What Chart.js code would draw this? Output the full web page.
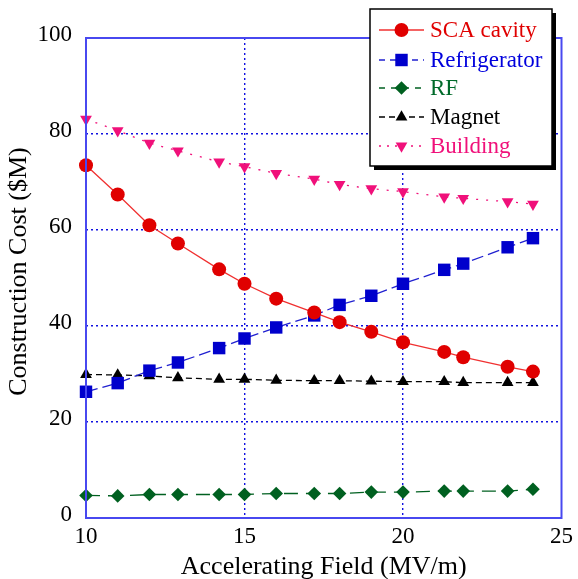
<!DOCTYPE html>
<html><head><meta charset="utf-8">
<script src="https://cdn.jsdelivr.net/npm/chart.js@4.4.1/dist/chart.umd.min.js"></script>
<style>html,body{margin:0;padding:0;background:#fff}#wrap{width:578px;height:579px}</style>
</head><body><div id="wrap"><canvas id="c" width="578" height="579"></canvas></div>
<script>
const fields = [10, 11, 12, 12.9, 14.2, 15, 16, 17.2, 18, 19, 20, 21.3, 21.9, 23.3, 24.1];
const scaCavity = [73.5, 67.4, 61.0, 57.2, 51.8, 48.8, 45.7, 42.8, 40.8, 38.8, 36.6, 34.6, 33.5, 31.5, 30.5];
const refrigerator = [26.3, 28.1, 30.7, 32.4, 35.4, 37.4, 39.7, 42.2, 44.4, 46.3, 48.8, 51.7, 53.0, 56.4, 58.3];
const rf = [4.7, 4.6, 4.9, 4.9, 4.9, 4.9, 5.1, 5.1, 5.1, 5.4, 5.4, 5.6, 5.6, 5.6, 6.0];
const magnet = [29.9, 29.8, 29.6, 29.2, 28.9, 28.9, 28.7, 28.6, 28.6, 28.5, 28.4, 28.4, 28.2, 28.2, 28.2];
const building = [83.1, 80.7, 78.1, 76.5, 74.2, 73.2, 71.8, 70.6, 69.5, 68.6, 68.0, 66.9, 66.6, 65.9, 65.4];
const seriesNames = ['SCA cavity', 'Refrigerator', 'RF', 'Magnet', 'Building'];
const xTicks = [10, 15, 20, 25];
const yTicks = [0, 20, 40, 60, 80, 100];

const FONT = '"Liberation Serif", "Times New Roman", serif';
const pts = arr => arr.map((v, i) => ({x: fields[i], y: v}));

const styles = [
  {color:'#e00000', line:'#f03030', text:'#e00000', dash:[], pointStyle:'circle', r:7, rot:0},
  {color:'#0000cc', line:'#2020d0', text:'#0000dd', dash:[12,5], pointStyle:'rect', r:8.8, rot:0},
  {color:'#006020', line:'#006020', text:'#006a2a', dash:[14,8], pointStyle:'rectRot', r:6.8, rot:0},
  {color:'#000000', line:'#000000', text:'#000000', dash:[6,4], pointStyle:'triangle', r:6.8, rot:0},
  {color:'#f0107a', line:'#f0107a', text:'#f0107a', dash:[2,8], pointStyle:'triangle', r:6.8, rot:180}
];
const seriesData = [scaCavity, refrigerator, rf, magnet, building];

const datasets = seriesData.map((d, i) => ({
  label: seriesNames[i],
  data: pts(d),
  borderColor: styles[i].line,
  backgroundColor: styles[i].color,
  pointBackgroundColor: styles[i].color,
  pointBorderColor: styles[i].color,
  pointBorderWidth: 0,
  borderWidth: 1.3,
  borderDash: styles[i].dash,
  pointStyle: styles[i].pointStyle,
  pointRadius: styles[i].r,
  pointRotation: styles[i].rot,
  tension: 0,
  clip: false
}));

const framePlugin = {
  id: 'frame',
  afterDatasetsDraw(chart) {
    const {ctx, chartArea: a} = chart;
    ctx.save();
    ctx.strokeStyle = '#4848f0';
    ctx.lineWidth = 2;
    ctx.setLineDash([]);
    ctx.strokeRect(a.left, a.top, a.right - a.left, a.bottom - a.top);
    ctx.restore();
  }
};

const legendPlugin = {
  id: 'boxLegend',
  afterDraw(chart) {
    const ctx = chart.ctx;
    const L = 370, T = 9, W = 182, H = 157;
    ctx.save();
    ctx.fillStyle = '#000';
    ctx.fillRect(L + 4, T + 4, W, H);
    ctx.fillStyle = '#fff';
    ctx.fillRect(L, T, W, H);
    ctx.strokeStyle = '#000';
    ctx.lineWidth = 1.5;
    ctx.strokeRect(L, T, W, H);
    const rows = [30, 60, 88, 117, 146];
    chart.data.datasets.forEach((ds, i) => {
      const y = rows[i];
      const st = styles[i];
      ctx.save();
      ctx.strokeStyle = st.line;
      ctx.lineWidth = 1.3;
      ctx.setLineDash(st.dash.length ? st.dash.map(v => Math.min(v, 6)) : []);
      ctx.beginPath();
      ctx.moveTo(379, y);
      ctx.lineTo(424, y);
      ctx.stroke();
      ctx.restore();
      ctx.save();
      ctx.fillStyle = st.color;
      ctx.strokeStyle = st.color;
      Chart.helpers.drawPoint(ctx, {pointStyle: st.pointStyle, radius: st.r, rotation: st.rot, borderWidth: 0}, 401.5, y);
      ctx.restore();
      ctx.fillStyle = st.text;
      ctx.font = '23px ' + FONT;
      ctx.textBaseline = 'middle';
      ctx.textAlign = 'left';
      ctx.fillText(ds.label, 430, y + 1);
    });
    ctx.restore();
  }
};

new Chart(document.getElementById('c'), {
  type: 'line',
  data: { datasets },
  options: {
    responsive: false,
    animation: false,
    devicePixelRatio: 1,
    layout: { padding: { left: 0, top: 38, right: 12, bottom: 0 } },
    plugins: { legend: { display: false }, tooltip: { enabled: false } },
    scales: {
      x: {
        type: 'linear', min: 10, max: 25,
        afterBuildTicks: s => { s.ticks = xTicks.map(v => ({value: v})); },
        afterFit: s => { s.height = 61; },
        border: { display: false, dash: [2, 3] },
        grid: {
          drawTicks: false,
          color: c => (c.tick && (c.tick.value === 10 || c.tick.value === 25)) ? 'rgba(0,0,0,0)' : '#1010e0',
          lineWidth: 1.4
        },
        ticks: { color: '#000', font: { family: FONT, size: 23 }, padding: 5, maxRotation: 0 },
        title: { display: true, text: 'Accelerating Field (MV/m)', color: '#000', font: { family: FONT, size: 26 }, padding: { top: 0, bottom: -4 } }
      },
      y: {
        min: 0, max: 100,
        afterBuildTicks: s => { s.ticks = yTicks.map(v => ({value: v})); },
        afterFit: s => { s.width = 86; },
        border: { display: false, dash: [2, 3] },
        grid: {
          drawTicks: false,
          color: c => (c.tick && (c.tick.value === 0 || c.tick.value === 100)) ? 'rgba(0,0,0,0)' : '#1010e0',
          lineWidth: 1.4
        },
        ticks: { color: '#000', font: { family: FONT, size: 23 }, padding: 14, labelOffset: -3 },
        title: { display: true, text: '  Construction Cost ($M)', color: '#000', font: { family: FONT, size: 26 }, padding: { top: 4, bottom: 0 } }
      }
    }
  },
  plugins: [framePlugin, legendPlugin]
});
</script>
</body></html>
